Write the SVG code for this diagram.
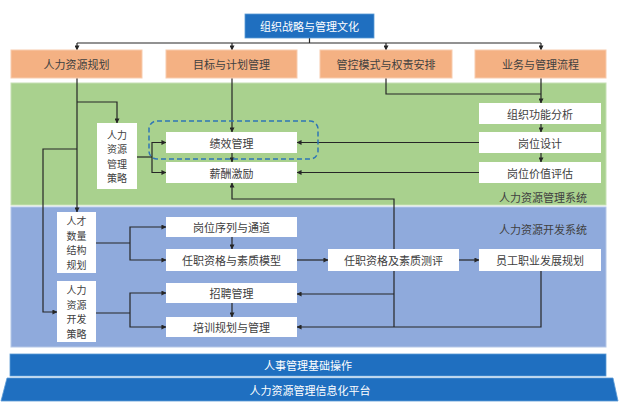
<svg xmlns="http://www.w3.org/2000/svg" width="629" height="407" viewBox="0 0 629 407">
<defs>
<marker id="ah" viewBox="0 0 6 6" refX="5.5" refY="3" markerWidth="5" markerHeight="5" orient="auto" markerUnits="userSpaceOnUse">
<path d="M0,0 L6,3 L0,6 Z" fill="#262626"/>
</marker>
<style>
text{font-family:"Noto Sans CJK SC","Microsoft YaHei",sans-serif;font-size:11px;fill:#404040;text-anchor:middle;dominant-baseline:central}
.v{font-size:10px}
.wt{fill:#ffffff}
.blue{fill:#1F6FC0;stroke:#5B9BD5;stroke-width:0.8}
.org{fill:#F4B183;stroke:#F8CBAD;stroke-width:1}
.box{fill:#ffffff}
.c{fill:none;stroke:#262626;stroke-width:1.2}
.ca{fill:none;stroke:#262626;stroke-width:1.2;marker-end:url(#ah)}
</style>
</defs>
<rect width="629" height="407" fill="#ffffff"/>
<!-- regions -->
<g id="region-mgmt">
<rect x="11" y="83" width="595" height="122" fill="#A9D18E" stroke="#C5E0B4" stroke-width="1"/>
<text x="543" y="197">人力资源管理系统</text>
</g>
<g id="region-dev">
<rect x="11" y="207" width="595" height="140" fill="#8FAADC" stroke="#B4C7E7" stroke-width="1"/>
<text x="543" y="229">人力资源开发系统</text>
</g>
<!-- connectors -->
<g id="connectors">
<path class="c" d="M309.5,38 V43"/>
<path class="c" d="M77,43 H541"/>
<path class="ca" d="M77,43 V50"/>
<path class="ca" d="M232,43 V50"/>
<path class="ca" d="M386,43 V50"/>
<path class="ca" d="M541,43 V50"/>
<path class="ca" d="M77,78 V212"/>
<path class="ca" d="M77,102 H117 V123"/>
<path class="ca" d="M77,149 H43 V312 H57"/>
<path class="ca" d="M232,78 V132"/>
<path class="ca" d="M232,153 V162"/>
<path class="c" d="M386,78 V94 H541"/>
<path class="ca" d="M541,78 V103"/>
<path class="ca" d="M541,124 V132"/>
<path class="ca" d="M541,153 V162"/>
<path class="c" d="M137,157 H152"/>
<path class="ca" d="M152,157 V142.5 H166"/>
<path class="ca" d="M152,157 V172.5 H166"/>
<path class="ca" d="M479,142.5 H297"/>
<path class="ca" d="M479,172.5 H297"/>
<path class="ca" d="M394,249 V199 H232 V183"/>
<path class="c" d="M394,271 V327"/>
<path class="ca" d="M394,294 H297"/>
<path class="ca" d="M541,271 V327 H297"/>
<path class="c" d="M96,243 H130"/>
<path class="ca" d="M130,243 V227 H166"/>
<path class="ca" d="M130,243 V260 H166"/>
<path class="ca" d="M232,237 V249"/>
<path class="c" d="M96,313 H130"/>
<path class="ca" d="M130,313 V293 H166"/>
<path class="ca" d="M130,313 V327 H166"/>
<path class="ca" d="M232,303 V317"/>
<path class="ca" d="M297,260 H328"/>
<path class="ca" d="M459,260 H479"/>
</g>
<!-- nodes -->
<g id="n-top"><rect class="blue" x="245" y="14" width="129" height="24"/><text class="wt" x="309.5" y="26">组织战略与管理文化</text></g>
<g id="n-hrplan"><rect class="org" x="11" y="50" width="131" height="28"/><text x="76.5" y="64">人力资源规划</text></g>
<g id="n-goal"><rect class="org" x="166" y="50" width="131" height="28"/><text x="231.5" y="64">目标与计划管理</text></g>
<g id="n-control"><rect class="org" x="320" y="50" width="132" height="28"/><text x="386" y="64">管控模式与权责安排</text></g>
<g id="n-biz"><rect class="org" x="475" y="50" width="131" height="28"/><text x="540.5" y="64">业务与管理流程</text></g>
<g id="n-hrstrat"><rect class="box" x="97" y="123" width="40" height="66"/>
<text class="v" x="117" y="134.25">人力</text><text class="v" x="117" y="148.75">资源</text><text class="v" x="117" y="163.25">管理</text><text class="v" x="117" y="177.75">策略</text></g>
<g id="n-perf"><rect class="box" x="166" y="132" width="131" height="21"/><text x="231.5" y="142.5">绩效管理</text></g>
<g id="n-pay"><rect class="box" x="166" y="162" width="131" height="21"/><text x="231.5" y="172.5">薪酬激励</text></g>
<g id="n-dash"><rect x="149" y="121" width="169" height="38" rx="8" fill="none" stroke="#2E75B6" stroke-width="1.5" stroke-dasharray="5,3"/></g>
<g id="n-orgfunc"><rect class="box" x="479" y="103" width="122" height="21"/><text x="540" y="113.5">组织功能分析</text></g>
<g id="n-jobdesign"><rect class="box" x="479" y="132" width="122" height="21"/><text x="540" y="142.5">岗位设计</text></g>
<g id="n-jobeval"><rect class="box" x="479" y="162" width="122" height="21"/><text x="540" y="172.5">岗位价值评估</text></g>
<g id="n-talent"><rect class="box" x="57" y="212" width="39" height="61"/>
<text class="v" x="76.5" y="220.75">人才</text><text class="v" x="76.5" y="235.25">数量</text><text class="v" x="76.5" y="249.75">结构</text><text class="v" x="76.5" y="264.25">规划</text></g>
<g id="n-devstrat"><rect class="box" x="57" y="281" width="39" height="61"/>
<text class="v" x="76.5" y="289.75">人力</text><text class="v" x="76.5" y="304.25">资源</text><text class="v" x="76.5" y="318.75">开发</text><text class="v" x="76.5" y="333.25">策略</text></g>
<g id="n-seq"><rect class="box" x="166" y="217" width="131" height="20"/><text x="231.5" y="227">岗位序列与通道</text></g>
<g id="n-qual"><rect class="box" x="166" y="249" width="131" height="22"/><text x="231.5" y="260">任职资格与素质模型</text></g>
<g id="n-recruit"><rect class="box" x="166" y="283" width="131" height="20"/><text x="231.5" y="293">招聘管理</text></g>
<g id="n-train"><rect class="box" x="166" y="317" width="131" height="20"/><text x="231.5" y="327">培训规划与管理</text></g>
<g id="n-assess"><rect class="box" x="328" y="249" width="131" height="22"/><text x="393.5" y="260">任职资格及素质测评</text></g>
<g id="n-career"><rect class="box" x="479" y="249" width="122" height="22"/><text x="540" y="260">员工职业发展规划</text></g>
<g id="n-base"><rect class="blue" x="10" y="354" width="596" height="22"/><text class="wt" x="308" y="365">人事管理基础操作</text></g>
<g id="n-platform"><path class="blue" d="M7,378 H613 L618,401 H1 Z"/><text class="wt" x="310" y="389.5">人力资源管理信息化平台</text></g>
</svg>
